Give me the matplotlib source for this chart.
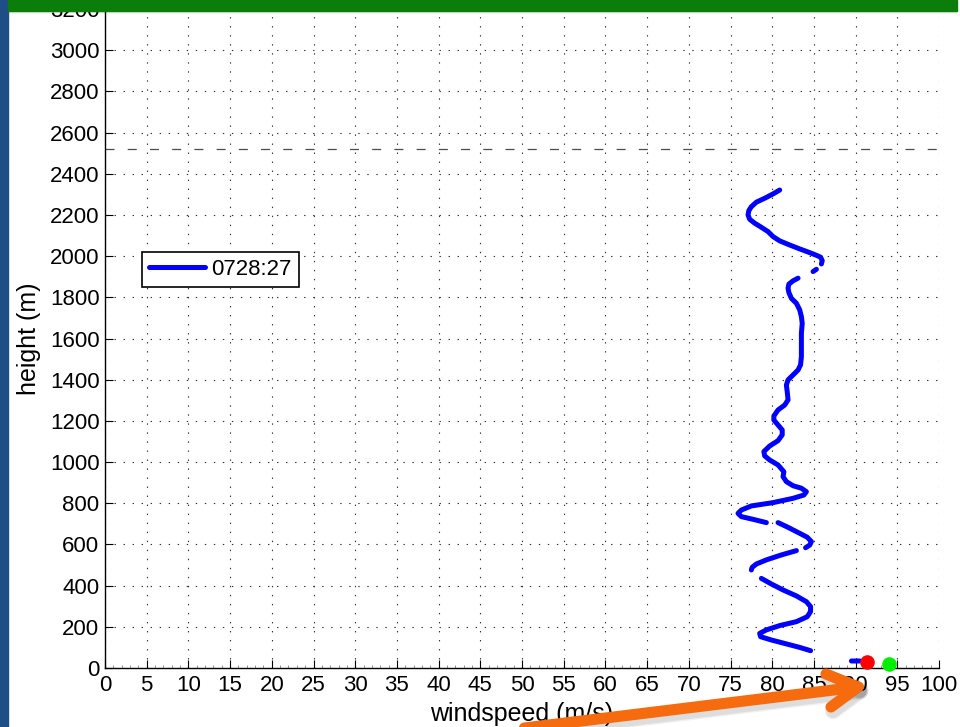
import numpy as np
import matplotlib
matplotlib.use("Agg")
import matplotlib.pyplot as plt
from matplotlib.lines import Line2D
from matplotlib.patches import Rectangle

plt.rcParams["font.family"] = ["Liberation Sans", "DejaVu Sans"]
plt.rcParams["lines.scale_dashes"] = False

# Wind profile (speed in m/s, height in m); NaN separates data gaps
speed = [80.9, 80.1, 79.1, 78.1, 77.5, 77.2, 77.1, 77.3, 77.9, 78.7, 79.5, 80.1,
         80.9, 82.1, 83.3, 84.3, 85.3, 85.8, 86.0, 85.9, np.nan,
         85.3, 84.9, np.nan,
         83.1, 82.5, 82.0, 81.9, 82.0, 82.3, 82.9, 83.3, 83.5, 83.6, 83.5, 83.5,
         83.5, 83.4, 83.1, 82.5, 81.9, 81.7, 81.8, 81.9, 81.5, 80.7, 80.2, 80.2,
         80.7, 81.2, 81.2, 80.7, 79.7, 79.0, 79.1, 79.7, 80.7, 81.4, 81.3, 81.7,
         82.5, 83.5, 84.1, 83.8, 82.5, 80.1, 77.5, 76.3, 75.9, 76.3, 77.7, 79.3,
         np.nan,
         80.7, 81.9, 83.3, 84.2, 84.7, 84.5, 84.0, np.nan,
         82.9, 81.1, 79.3, 78.1, 77.6, 77.5, np.nan,
         78.7, 79.9, 81.3, 82.9, 84.1, 84.6, 84.6, 84.2, 82.9, 80.9, 79.3, 78.5,
         78.6, 79.9, 81.7, 83.3, 84.6, np.nan,
         89.5, 90.5]
height = [2321, 2302, 2281, 2262, 2240, 2221, 2200, 2179, 2160, 2140, 2119, 2095,
          2074, 2054, 2035, 2020, 2004, 1995, 1978, 1962, np.nan,
          1936, 1925, np.nan,
          1893, 1880, 1864, 1844, 1823, 1795, 1771, 1739, 1706, 1674, 1625, 1561,
          1512, 1472, 1447, 1423, 1399, 1374, 1342, 1302, 1277, 1253, 1224, 1204,
          1180, 1156, 1132, 1104, 1078, 1051, 1030, 1010, 986, 953, 929, 905,
          885, 873, 856, 840, 824, 803, 787, 767, 751, 735, 722, 706,
          np.nan,
          706, 683, 654, 635, 614, 597, 584, np.nan,
          570, 549, 525, 505, 489, 476, np.nan,
          435, 408, 379, 350, 322, 298, 274, 249, 225, 206, 185, 168,
          152, 136, 117, 100, 84, np.nan,
          34, 34]
series_label = "0728:27"

# Reference points near the ground
red_point = (91.4, 28)
green_point = (94.0, 18)

# Reference height
ref_height = 2520

x_ticks = list(range(0, 101, 5))
y_ticks = list(range(0, 3201, 200))

W, H = 960, 727
fig = plt.figure(figsize=(W / 100, H / 100), dpi=100)
fig.patch.set_facecolor("white")
ax = fig.add_axes([105 / W, (H - 668) / H, (939 - 105) / W, (668 - 9) / H])

ax.plot(speed, height, color="#0000ff", lw=3.6, solid_capstyle="round",
        solid_joinstyle="round", label=series_label, zorder=3)
ax.plot(*red_point, "o", color="#ff0000", ms=10.5, mec="none", zorder=4, clip_on=False)
ax.plot(*green_point, "o", color="#00ee00", ms=10.5, mec="none", zorder=4, clip_on=False)
ax.axhline(ref_height, color="0.3", lw=0.9, ls=(0, (6.5, 9.5)), zorder=2)

ax.set_xlim(0, 100)
ax.set_ylim(0, 3200)
ax.set_xticks(x_ticks)
ax.set_yticks(y_ticks)
ax.set_xticks(np.arange(0, 101, 1), minor=True)
ax.tick_params(axis="both", which="major", direction="in", length=6, width=0.8,
               labelsize=16, colors="black")
ax.tick_params(axis="x", which="major", pad=5)
ax.tick_params(axis="y", which="major", pad=4)
ax.tick_params(axis="x", which="minor", direction="in", length=2, width=0.5,
               color="0.4")
ax.grid(True, which="major", color="0.2", lw=0.8, ls=(0, (1, 5.5)))
for side in ("top", "right"):
    ax.spines[side].set_visible(False)
for side in ("left", "bottom"):
    ax.spines[side].set_linewidth(1.0)

ax.set_xlabel("windspeed (m/s)", fontsize=18, labelpad=4)
ax.set_ylabel("height (m)", fontsize=18, labelpad=6)

leg = ax.legend(loc="upper left", bbox_to_anchor=(0.0444, 0.631), fontsize=16,
                handlelength=2.55, handletextpad=0.28, borderpad=0.3,
                borderaxespad=0, fancybox=False, framealpha=1, edgecolor="black")
leg.get_frame().set_linewidth(1.2)


def fx(px):
    return px / W


def fy(py):
    return (H - py) / H


# Slide frame: left stripe and top bar with a soft shadow
fig.add_artist(Rectangle((0, 0), fx(7.5), 1, transform=fig.transFigure,
                         color="#1f4e86", zorder=20))
for i, a in enumerate([0.25, 0.15, 0.08, 0.04]):
    fig.add_artist(Rectangle((fx(8), fy(11 + i)), fx(957) - fx(8), 1 / H,
                             transform=fig.transFigure, color="black",
                             alpha=a, lw=0, zorder=19))
fig.add_artist(Rectangle((fx(7.5), fy(10.5)), fx(957) - fx(7.5), 10.5 / H,
                         transform=fig.transFigure, color="#0a7d0a", zorder=20))

# Orange pointer arrow with a soft shadow
shaft = [(500, 731), (858, 687)]
wing_up = [(826, 674), (858, 687)]
wing_dn = [(831, 707), (858, 687)]
segments = [shaft, wing_up, wing_dn]
for lw, alpha in [(12, 0.06), (10, 0.08)]:
    for seg in segments:
        xs = [fx(p[0] + 2) for p in seg]
        ys = [fy(p[1] + 4) for p in seg]
        fig.add_artist(Line2D(xs, ys, transform=fig.transFigure, color="black",
                              alpha=alpha, lw=lw, solid_capstyle="round", zorder=21))
for seg in segments:
    xs = [fx(p[0]) for p in seg]
    ys = [fy(p[1]) for p in seg]
    fig.add_artist(Line2D(xs, ys, transform=fig.transFigure, color="#f56b0e",
                          lw=8, solid_capstyle="round", zorder=22))

fig.savefig("out.png", dpi=100)
